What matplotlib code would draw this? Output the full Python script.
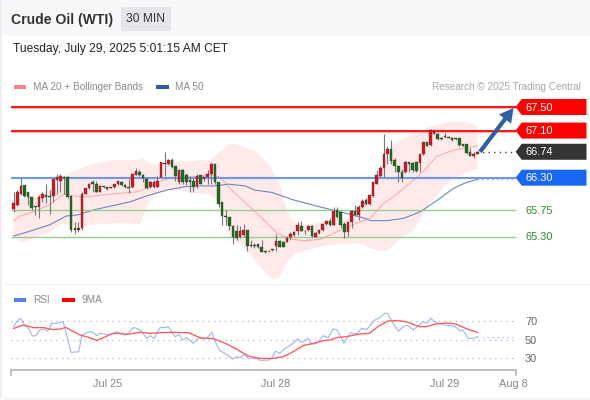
import numpy as np
import matplotlib
matplotlib.use("Agg")
import matplotlib.pyplot as plt
from matplotlib.patches import Rectangle, Polygon

plt.rcParams['font.family'] = ['Liberation Sans', 'DejaVu Sans']

opens = [65.77,65.84,66.03,66.18,66.05,65.97,65.81,65.80,65.95,66.01,65.99,65.99,66.26,66.25,66.31,66.32,65.99,65.44,65.42,65.44,
 66.03,66.12,66.22,66.19,66.06,66.15,66.14,66.13,66.14,66.19,66.23,66.18,66.14,66.15,66.35,66.39,66.35,66.28,66.14,66.14,
 66.15,66.31,66.53,66.54,66.60,66.49,66.23,66.43,66.35,66.26,66.25,66.16,66.34,66.27,66.31,66.36,66.53,66.22,65.88,65.65,
 65.63,65.48,65.40,65.30,65.32,65.42,65.16,65.16,65.17,65.12,65.05,65.05,65.07,65.14,65.23,65.21,65.21,65.30,65.32,65.40,
 65.48,65.40,65.41,65.48,65.30,65.36,65.41,65.51,65.57,65.50,65.75,65.72,65.51,65.38,65.54,65.74,65.67,65.80,65.92,65.86,
 65.99,66.20,66.33,66.46,66.70,66.78,66.60,66.50,66.40,66.39,66.56,66.55,66.57,66.55,66.70,66.90,66.85,67.05,67.05,66.97,
 67.01,66.99,66.98,66.97,66.97,66.87,66.87,66.74,66.67,66.71]
closes = [65.87,66.06,66.16,65.99,65.97,65.78,65.80,65.97,66.02,65.98,65.97,66.27,66.31,66.33,66.29,65.98,65.41,65.41,65.45,66.03,
 66.12,66.20,66.19,66.06,66.16,66.14,66.11,66.14,66.19,66.24,66.18,66.14,66.12,66.36,66.41,66.35,66.29,66.13,66.23,66.23,
 66.25,66.56,66.54,66.60,66.48,66.33,66.43,66.23,66.23,66.23,66.15,66.33,66.20,66.31,66.37,66.53,66.22,65.85,65.65,65.63,
 65.48,65.30,65.27,65.40,65.41,65.14,65.14,65.14,65.12,65.04,65.04,65.06,65.08,65.23,65.13,65.13,65.28,65.34,65.38,65.50,
 65.40,65.39,65.48,65.31,65.36,65.41,65.51,65.57,65.50,65.74,65.64,65.50,65.38,65.54,65.74,65.67,65.81,65.91,65.85,66.00,
 66.22,66.35,66.46,66.70,66.78,66.59,66.49,66.39,66.29,66.56,66.53,66.43,66.42,66.70,66.90,66.84,67.11,67.10,66.95,66.96,
 66.99,66.98,66.94,66.95,66.85,66.84,66.72,66.67,66.70,66.74]
highs = [66.06,66.09,66.30,66.18,66.05,65.97,65.82,66.00,66.06,66.20,66.09,66.29,66.36,66.37,66.33,66.33,65.99,65.55,65.55,66.05,
 66.12,66.21,66.26,66.25,66.18,66.16,66.15,66.15,66.19,66.25,66.25,66.19,66.27,66.38,66.47,66.43,66.37,66.31,66.25,66.26,
 66.33,66.56,66.74,66.61,66.63,66.50,66.44,66.44,66.38,66.33,66.30,66.36,66.35,66.33,66.43,66.55,66.55,66.23,65.89,65.75,
 65.64,65.50,65.50,65.48,65.51,65.42,65.24,65.19,65.17,65.24,65.06,65.07,65.09,65.34,65.25,65.23,65.31,65.37,65.40,65.55,
 65.57,65.41,65.50,65.49,65.38,65.42,65.52,65.57,65.61,65.80,65.80,65.74,65.55,65.54,65.75,65.83,65.84,65.93,65.95,66.01,
 66.23,66.43,66.50,67.05,66.84,66.94,66.63,66.51,66.44,66.59,66.57,66.57,66.59,66.71,66.91,66.91,67.12,67.12,67.06,66.99,
 67.06,67.00,66.99,66.98,66.97,66.88,66.88,66.80,66.73,66.76]
lows = [65.71,65.82,66.01,65.98,65.84,65.75,65.67,65.61,65.89,65.87,65.68,65.88,66.02,66.06,66.03,65.95,65.38,65.34,65.38,65.42,
 66.02,66.11,66.06,66.05,66.05,66.12,66.09,66.12,66.13,66.17,66.16,66.12,66.04,66.12,66.34,66.33,66.23,66.11,66.13,66.13,
 66.14,66.29,66.33,66.52,66.46,66.25,66.20,66.20,66.18,66.06,66.06,66.13,66.20,66.24,66.19,66.19,66.19,65.80,65.50,65.50,
 65.41,65.18,65.24,65.27,65.30,65.06,65.12,65.10,65.10,65.03,65.02,65.03,65.05,65.06,65.12,65.12,65.20,65.25,65.31,65.32,
 65.39,65.34,65.40,65.30,65.29,65.34,65.40,65.50,65.48,65.49,65.61,65.44,65.27,65.31,65.44,65.65,65.58,65.78,65.84,65.84,
 65.97,66.19,66.31,66.31,66.54,66.53,66.40,66.23,66.23,66.38,66.40,66.40,66.39,66.40,66.69,66.83,66.84,67.04,66.94,66.94,
 66.97,66.97,66.93,66.94,66.83,66.83,66.70,66.66,66.63,66.70]

ma50_i = [0,5.5,10,14.7,18,22,32.4,37,42.6,48,52,56,59.7,64.4,67,71.8,77.4,84.8,92.2,97.8,99.2,103.8,108.5,113.1,117.7,122.4,126,129]
ma50_v = [65.31,65.41,65.50,65.65,65.67,65.75,65.89,65.99,66.09,66.15,66.16,66.16,66.19,66.16,66.09,66.05,65.93,65.81,65.70,65.61,65.57,65.57,65.61,65.72,65.91,66.12,66.22,66.27]
ma20_i = [0,1.8,5.5,10,13.8,18.9,24,28.7,34.2,37,39.8,43.5,48,52,54.6,57.4,61.1,67.6,73.2,76.9,80.6,85.2,89.9,95.5,99.2,102.9,105.7,108.5,113.1,117.7,122.4,129]
ma20_v = [65.57,65.65,65.72,65.84,66.02,65.97,66.00,66.03,66.06,66.12,66.22,66.29,66.31,66.32,66.35,66.31,66.06,65.70,65.36,65.26,65.23,65.25,65.38,65.53,65.61,65.86,65.98,66.12,66.35,66.66,66.77,66.84]
bbu_i = [0,5.5,10,13,15.2,21.2,27.7,34.2,36,38.3,43,52,54.6,57.4,60.2,63,67.6,71.3,74.1,75.9,77.8,81.5,88,92.6,97.2,100,102.9,104.7,108.5,115.9,121.5,126,129]
bbu_v = [65.92,66.00,66.09,66.29,66.37,66.52,66.60,66.60,66.63,66.52,66.57,66.59,66.60,66.74,66.88,66.84,66.74,66.49,66.18,65.75,65.55,65.50,65.58,65.61,65.81,66.15,66.54,66.83,66.97,67.17,67.25,67.25,67.17]
bbl_i = [0,2.7,5.5,10,13.8,17,22,28.7,35.2,37,38.6,40.8,46,52,54.6,57.4,60.2,64.8,69.5,72.2,74.1,75.9,78.7,86.2,90.8,96.4,101,103.8,108.5,111.3,115.9,119.6,122.4,129]
bbl_v = [65.27,65.20,65.27,65.38,65.53,65.47,65.50,65.53,65.51,65.81,65.98,66.06,66.09,66.03,66.02,65.89,65.30,65.07,64.73,64.57,64.62,64.87,65.02,65.14,65.17,65.19,65.06,65.06,65.30,65.41,65.87,66.15,66.29,66.46]

rsi_i = [0,0.8,1.9,3.2,4.1,5.2,6.1,7.3,8.3,9.5,10.6,12,13.8,14.7,16,18.1,19,21.1,22,23.1,24,25.4,26.3,28.7,30.1,31.4,33.3,34.4,35.6,37,37.9,39.1,40.7,42.1,43,44.9,46,47,48.1,50,51.4,52.8,53.7,55.1,56.3,57.4,59.3,60.9,62.1,63,64.1,65.3,67.6,68.6,70.9,71.8,72.9,74,75.5,77.8,78.9,80.1,82,82.9,84.3,86.1,87.5,88.9,90,91.9,93.7,95.4,96.8,98.3,100.5,101.9,103.2,104,105.6,107,108.8,109.8,111.2,114,114.9,116,117.4,119.1,121.4,122.8,124.2,124.9,126.5,127.9,129]
rsi_v = [63.9,69.3,72.9,65,62.1,53.9,54.3,60.4,61.4,59.3,67.5,67.5,69.3,55,36.4,37.2,55,58.6,57.9,54.3,56.8,56.1,55,58.6,55.7,55,62.9,62.1,58.6,51.4,54.3,51.4,62.9,62.9,63.9,53.2,55.7,49.6,52.1,46.1,52.1,50.7,51.4,57.9,46.1,38.2,34.3,29.3,31.8,30.7,34.3,30,30,27.9,28.2,30,37.9,35.4,40.7,46.1,50.7,47.1,51.4,45,46.1,54.3,52.1,61.4,60.4,46.1,57.5,56.1,62.1,61.1,71.1,73.6,78.2,78.2,67.5,59.3,65,65,60.4,69.3,67.5,72.9,68.6,66.4,65,63.9,59.3,60.4,51.4,51.4,53.2]
ma9_i = [0,2.7,5.5,8.3,11,12.9,14.5,16.6,18.5,20.8,23.1,25,27.3,29.1,31.4,35.2,37.9,40.7,44.4,48.6,51.9,55.6,59.3,62.1,65.3,68.6,72.3,75,77.8,80.5,83.3,86.1,87.9,90.2,92.5,96.2,99,101.3,104.1,106.4,109.2,112.9,114.7,117.5,120.3,123,125.8,129]
ma9_v = [62.1,65.7,62.9,62.9,60.7,61.4,63.2,58.6,55,52.5,49.3,52.1,56.4,57.1,55.7,57.9,56.8,57.5,57.9,57.5,52.1,51.1,45.4,39.7,32.5,30,30,31.8,37.2,43.6,46.1,48.9,49.6,52.5,53.2,56.1,56.8,63.9,70,70.4,69.3,63.9,63.9,66.8,67.9,66.8,62.1,57.9]

levels_red = [67.50, 67.10]
level_last = 66.74
level_blue = 66.30
levels_green = [65.75, 65.30]
rsi_levels = [70, 50, 30]
date_ticks = ["Jul 25", "Jul 28", "Jul 29", "Aug 8"]
date_pos = [26, 73, 120, 139]

W, H = 590, 400
PX_I = 3.594          # pixels per candle
X0 = 13.7
PX_P = 58.9           # pixels per price unit
def ix(px):
    return (px - X0) / PX_I

fig = plt.figure(figsize=(W/100, H/100), dpi=100, facecolor='white')

# page chrome in pixel coordinates
bg = fig.add_axes([0, 0, 1, 1]); bg.set_xlim(0, W); bg.set_ylim(H, 0); bg.axis('off')
bg.add_patch(Rectangle((0, 0), W, 36, fc='#f8f8fa', ec='none'))
bg.add_patch(Rectangle((0, 0), 1.5, H, fc='#eceef2', ec='none'))
bg.add_patch(Rectangle((0, 397), W, 3, fc='#f6f7f9', ec='none'))
bg.add_patch(Rectangle((121, 7), 50, 24, fc='#e5e6e9', ec='none'))
bg.plot([0, W], [284, 284], color='#f2f2f4', lw=0.8)
bg.text(11, 20, "Crude Oil (WTI)", fontsize=10.08, fontweight='bold', color='#333333', va='center')
bg.text(146, 19.5, "30 MIN", fontsize=8.64, color='#333333', va='center', ha='center')
bg.text(13, 49, "Tuesday, July 29, 2025 5:01:15 AM CET", fontsize=8.64, color='#222222', va='center')
grey = '#8a8a8f'
bg.add_patch(Rectangle((14, 85), 12, 3.5, fc='#ff8585', ec='none'))
bg.text(33, 87, "MA 20 + Bollinger Bands", fontsize=7.2, color=grey, va='center')
bg.add_patch(Rectangle((156, 85), 13, 3.5, fc='#2f5d9f', ec='none'))
bg.text(175, 87, "MA 50", fontsize=7.2, color=grey, va='center')
bg.text(581, 87, "Research \u00a9 2025 Trading Central", fontsize=7.2, color='#a8a8ac', va='center', ha='right')
bg.add_patch(Rectangle((14, 298), 12, 3.5, fc='#5b7fe8', ec='none'))
bg.text(33, 300, "RSI", fontsize=7.2, color=grey, va='center')
bg.add_patch(Rectangle((62, 298), 13, 3.5, fc='#ff0000', ec='none'))
bg.text(82, 300, "9MA", fontsize=7.2, color=grey, va='center')

# price panel: y pixel 90..285
ax = fig.add_axes([0, 1-285/H, 1, 195/H], facecolor='none')
ax.set_xlim(ix(0), ix(W))
ax.set_ylim(67.5-(285-107)/PX_P, 67.5-(90-107)/PX_P)
ax.axis('off')
xs = np.arange(len(opens))
TXT = 0.7/PX_P  # label baseline nudge

ax.fill(np.r_[bbu_i, bbl_i[::-1]], np.r_[bbu_v, bbl_v[::-1]], fc='#ffe9e9', ec='none', zorder=1)
ax.plot(ma20_i, ma20_v, color='#ffa3a3', lw=0.7, zorder=2)
ax.plot(ma50_i, ma50_v, color='#6a89bb', lw=0.8, zorder=2)

L, R = ix(11), ix(516)
last_i = xs[-1]
for p in levels_red:
    ax.plot([L, R], [p, p], color='#ffb0b0', lw=2.2, zorder=2.5, solid_capstyle='butt')
    ax.plot([L, R], [p, p], color='#f00000', lw=1.2, zorder=2.6, solid_capstyle='butt')
ax.plot([L, R], [level_blue]*2, color='#6f97ee', lw=1.5, zorder=2.5, solid_capstyle='butt')
for p in levels_green:
    ax.plot([L, R], [p, p], color='#93cf93', lw=1.0, zorder=2.5, solid_capstyle='butt')
ax.plot([last_i, R], [level_last]*2, color='#444444', lw=1.0, ls=(0, (1, 3)), zorder=2.5)
ax.plot([last_i, R], [ma50_v[-1]]*2, color='#7f9fe0', lw=1.0, ls=(0, (1, 2.5)), zorder=2.5)

for i, o, c, h, l in zip(xs, opens, closes, highs, lows):
    up = c >= o
    ax.plot([i, i], [l, h], color='#77777a', lw=0.8, zorder=3, solid_capstyle='butt')
    b, t = min(o, c), max(o, c)
    ax.add_patch(Rectangle((i-0.36, b), 0.72, max(t-b, 0.012), fc='#d9141c' if up else '#1c6e1c',
                           ec='#3a3a3a', lw=0.25, zorder=4))

def tag(price, color):
    hh = 8.0/PX_P
    a, b, e = ix(515.7), ix(521.7), ix(586.5)
    ax.add_patch(Polygon([(a, price), (b, price+hh), (e, price+hh), (e, price-hh), (b, price-hh)],
                         closed=True, fc=color, ec='none', zorder=6))
    ax.text(ix(525), price-TXT, f"{price:.2f}", color='white', fontsize=7.92, va='center', zorder=7)

for p in levels_red:
    tag(p, '#ff0000')
tag(level_last, '#333333')
tag(level_blue, '#1a66f5')
for p in levels_green:
    ax.text(ix(525), p-TXT, f"{p:.2f}", color='#2e8b2e', fontsize=7.92, va='center', zorder=7)

ax.annotate("", xy=(ix(513.5), levels_red[0]-1.0/PX_P), xytext=(ix(480), level_last),
            arrowprops=dict(facecolor='#2f5f9e', edgecolor='none', width=3.0, headwidth=11, headlength=10, shrink=0),
            zorder=8)

# RSI panel: y pixel 305..378
sc = 18.7/20
rx = fig.add_axes([0, 1-378/H, 1, 73/H], facecolor='none')
rx.set_xlim(ix(0), ix(W))
rx.set_ylim(70-(378-321)/sc, 70-(305-321)/sc)
rx.axis('off')
for v in rsi_levels:
    rx.plot([L, R], [v, v], color='#b5b5b8', lw=0.9, ls=(0, (1, 3.5)))
    rx.text(ix(525), v-0.8/sc, str(v), color='#666666', fontsize=7.92, va='center')
rx.plot(rsi_i, rsi_v, color='#9db4f2', lw=0.8)
rx.plot(ma9_i, ma9_v, color='#ff5a5a', lw=0.95)
rx.plot([last_i, R], [rsi_v[-1]]*2, color='#a5b9f2', lw=0.9, ls=(0, (1, 3)))

axis_v = 70-(370-321)/sc
tick_v = 70-(375-321)/sc
rx.plot([L, L, R, R], [tick_v, axis_v, axis_v, tick_v], color='#b3b3b3', lw=1.2, solid_joinstyle='miter')
for lab, pos in zip(date_ticks, date_pos):
    rx.annotate(lab, xy=(pos, axis_v), xytext=(0, -10), textcoords='offset points',
                color='#858589', fontsize=7.92, ha='center', va='center', annotation_clip=False)

fig.savefig("out.png", dpi=100)
